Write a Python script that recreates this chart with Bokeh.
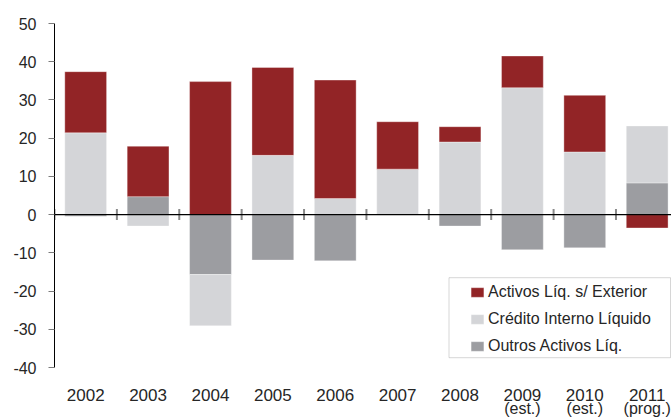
import numpy as np
from bokeh.plotting import figure
from bokeh.models import (ColumnDataSource, Range1d, FixedTicker, Legend, LegendItem,
                          Span, BoxAnnotation, LinearAxis)
from bokeh.embed import file_html
from bokeh.resources import INLINE

# ---------------- data ----------------
years = ["2002", "2003", "2004", "2005", "2006", "2007", "2008", "2009", "2010", "2011"]
year_notes = ["", "", "", "", "", "", "", "(est.)", "(est.)", "(prog.)"]
activos = [16.0, 13.2, 34.8, 23.0, 31.0, 12.4, 4.0, 8.3, 14.8, -3.5]
credito = [21.4, -3.0, -13.4, 15.5, 4.2, 11.9, 19.0, 33.2, 16.4, 14.9]
outros = [-0.4, 4.7, -15.7, -11.9, -12.1, 0.0, -3.0, -9.2, -8.7, 8.3]
series_names = ["Activos Líq. s/ Exterior", "Crédito Interno Líquido", "Outros Activos Líq."]
y_ticks = [-40, -30, -20, -10, 0, 10, 20, 30, 40, 50]
y_tick_labels = ["-40", "-30", "-20", "-10", "0", "10", "20", "30", "40", "50"]

# ---------------- styles ----------------
RED = "#922426"
LIGHT = "#D4D5D8"
DARK = "#9C9DA1"
TXT = "#262626"
FONT = "Liberation Sans"

n = len(years)
xs = list(range(n))

# stacking: positives upward, negatives downward, order Outros, Crédito, Activos
pos = [0.0] * n
neg = [0.0] * n
stacks = {}
for key, vals in [("outros", outros), ("credito", credito), ("activos", activos)]:
    bottom, top = [], []
    for i, v in enumerate(vals):
        if v >= 0:
            b = pos[i]; t = b + v; pos[i] = t
        else:
            b = neg[i]; t = b + v; neg[i] = t
        bottom.append(b); top.append(t)
    stacks[key] = (bottom, top)

p = figure(width=671, height=419, output_backend="svg", toolbar_location=None,
           x_range=Range1d(-0.5, 9.39), y_range=Range1d(-40, 50),
           min_border_left=54, min_border_right=0, min_border_top=23, min_border_bottom=40)
p.outline_line_color = None
p.grid.visible = False
p.background_fill_color = "white"

colors = {"activos": RED, "credito": LIGHT, "outros": DARK}
renderers = {}
for key in ["outros", "credito", "activos"]:
    b, t = stacks[key]
    src = ColumnDataSource(dict(x=xs, bottom=b, top=t))
    renderers[key] = p.vbar(x="x", bottom="bottom", top="top", width=0.67, source=src,
                            fill_color=colors[key], line_color="white", line_alpha=0.35,
                            line_width=1)

# category separators on the zero line
bounds = [i - 0.5 for i in xs]
p.scatter(x=bounds, y=[0] * n, marker="dash", size=11, angle=np.pi / 2,
          line_color="#8a8a8a", line_width=2)

p.add_layout(Span(location=0, dimension="width", line_color="black", line_width=1.2))

# y axis
ya = p.yaxis[0]
ya.ticker = FixedTicker(ticks=y_ticks)
ya.major_label_overrides = {t: l for t, l in zip(y_ticks, y_tick_labels)}
ya.axis_line_color = "black"
ya.axis_line_width = 1
ya.major_tick_line_color = "#7a7a7a"
ya.major_tick_out = 6
ya.major_tick_in = 0
ya.minor_tick_line_color = None
ya.major_label_standoff = 12
ya.major_label_text_font = FONT
ya.major_label_text_font_size = "16px"
ya.major_label_text_color = TXT


def style_x(ax, standoff, size):
    ax.ticker = FixedTicker(ticks=xs)
    ax.axis_line_color = None
    ax.major_tick_line_color = None
    ax.minor_tick_line_color = None
    ax.major_tick_out = 0
    ax.major_tick_in = 0
    ax.major_label_standoff = standoff
    ax.major_label_text_font = FONT
    ax.major_label_text_font_size = size
    ax.major_label_text_color = TXT


# x axis (years)
xa = p.xaxis[0]
style_x(xa, 21, "17px")
xa.major_label_overrides = {i: years[i] for i in xs}

# second x axis (notes under the years)
xa2 = LinearAxis()
style_x(xa2, -4, "16px")
xa2.major_label_overrides = {i: year_notes[i] for i in xs}
p.add_layout(xa2, "below")

# legend frame + legend
p.add_layout(BoxAnnotation(left=394.5, right=616, bottom=9.8, top=89.8,
                           left_units="screen", right_units="screen",
                           bottom_units="screen", top_units="screen",
                           fill_color="white", fill_alpha=1.0,
                           line_color="#777777", line_width=1))
legend = Legend(items=[LegendItem(label=series_names[0], renderers=[renderers["activos"]]),
                       LegendItem(label=series_names[1], renderers=[renderers["credito"]]),
                       LegendItem(label=series_names[2], renderers=[renderers["outros"]])],
                location=(415, 11), padding=0, margin=0, border_line_color=None,
                background_fill_alpha=0, glyph_width=16, glyph_height=12,
                label_standoff=3, label_height=20, spacing=7,
                label_text_font=FONT, label_text_font_size="16px",
                label_text_color=TXT)
p.add_layout(legend)

open("out.html", "w").write(file_html(p, INLINE))
